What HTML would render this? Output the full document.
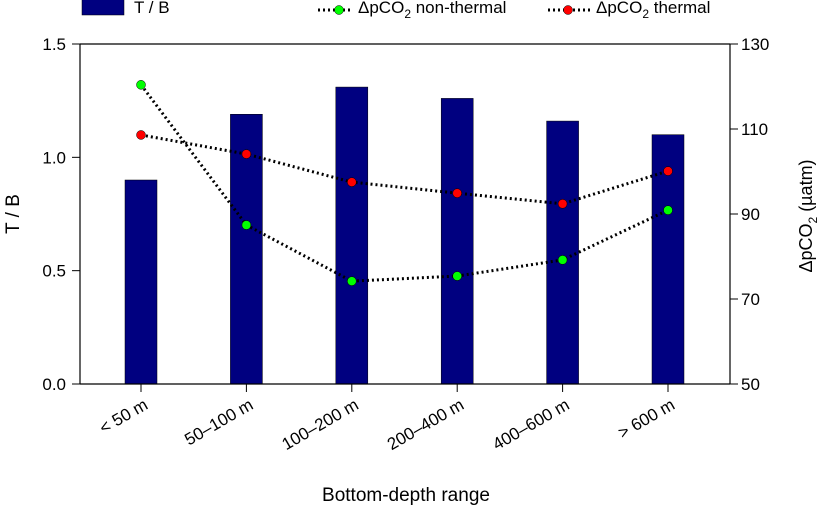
<!DOCTYPE html>
<html><head><meta charset="utf-8"><style>
body{margin:0;background:#fff}
svg{font-family:"Liberation Sans",sans-serif;display:block}
</style></head><body>
<svg id="c" width="824" height="509">
<g>
<rect x="82" y="-2" width="42" height="17" fill="#000080" stroke="#000" stroke-width="0.5"/>
<text x="134" y="13" font-size="17">T / B</text>
<line x1="318" y1="10" x2="352" y2="10" stroke="#000" stroke-width="3" stroke-dasharray="2,3"/>
<circle cx="339" cy="10" r="4.5" fill="#00ff00" stroke="#000" stroke-width="0.5"/>
<text x="358" y="13" font-size="17">ΔpCO<tspan font-size="12" dy="5">2</tspan><tspan dy="-5"> non-thermal</tspan></text>
<line x1="548" y1="10" x2="592" y2="10" stroke="#000" stroke-width="3" stroke-dasharray="2,3"/>
<circle cx="568" cy="10" r="4.5" fill="#ff0000" stroke="#000" stroke-width="0.5"/>
<text x="596" y="13" font-size="17">ΔpCO<tspan font-size="12" dy="5">2</tspan><tspan dy="-5"> thermal</tspan></text>
</g>
<g id="plot"></g>
<text x="406" y="501" font-size="19" text-anchor="middle">Bottom-depth range</text>
<text transform="translate(19,214) rotate(-90)" font-size="19" text-anchor="middle">T / B</text>
<text transform="translate(812,216) rotate(-90)" font-size="18" text-anchor="middle">ΔpCO<tspan font-size="12" dy="5">2</tspan><tspan dy="-5"> (µatm)</tspan></text>
</svg>
<script>
const categories=["< 50 m","50–100 m","100–200 m","200–400 m","400–600 m","> 600 m"];
const tbValues=[0.90,1.19,1.31,1.26,1.16,1.10];
const nonThermal=[120.4,87.4,74.2,75.4,79.2,90.9];
const thermal=[108.6,104.1,97.5,94.9,92.4,100.1];
const leftTicks=[0.0,0.5,1.0,1.5];
const rightTicks=[50,70,90,110,130];

const L=80,R=730,T=44,B=384,NS="http://www.w3.org/2000/svg";
const g=document.getElementById('plot');
const yL=v=>B-(v/1.5)*(B-T);
const yR=v=>B-((v-50)/80)*(B-T);
const xC=i=>141+i*105.4;
function mk(t,a){const e=document.createElementNS(NS,t);for(const k in a)e.setAttribute(k,a[k]);g.appendChild(e);return e;}
tbValues.forEach((v,i)=>{
 const r=mk('rect',{x:xC(i)-16,y:yL(v),width:32,height:B-yL(v),fill:'#000080',stroke:'#000','stroke-width':0.5});
 
 
});
mk('line',{x1:L,y1:T,x2:R,y2:T,stroke:'#000','stroke-width':1.2});
mk('line',{x1:L,y1:B,x2:R,y2:B,stroke:'#000','stroke-width':1.2});
mk('line',{x1:L,y1:T,x2:L,y2:B,stroke:'#000','stroke-width':1.2});
mk('line',{x1:R,y1:T,x2:R,y2:B,stroke:'#000','stroke-width':1.2});
leftTicks.forEach(v=>{
 mk('line',{x1:L-8,y1:yL(v),x2:L,y2:yL(v),stroke:'#000'});
 const t=mk('text',{x:L-14,y:yL(v)+6,'font-size':17,'text-anchor':'end'});t.textContent=v.toFixed(1);
 
 
});
rightTicks.forEach(v=>{
 mk('line',{x1:R,y1:yR(v),x2:R+8,y2:yR(v),stroke:'#000'});
 const t=mk('text',{x:R+11,y:yR(v)+6,'font-size':17});t.textContent=v;
 
 
});
categories.forEach((c,i)=>{
 mk('line',{x1:xC(i),y1:B,x2:xC(i),y2:B+8,stroke:'#000'});
 const t=mk('text',{x:xC(i)+8,y:B+24,'font-size':17,'text-anchor':'end',transform:`rotate(-30 ${xC(i)+8} ${B+24})`});t.textContent=c;
 
 
});
function series(vals,col,name){
 const pl=mk('polyline',{points:vals.map((v,i)=>xC(i)+','+yR(v)).join(' '),fill:'none',stroke:'#000','stroke-width':3,'stroke-dasharray':'2,3'});
 
 
 vals.forEach((v,i)=>{
  const c=mk('circle',{cx:xC(i),cy:yR(v),r:4.5,fill:col,stroke:'#000','stroke-width':0.5});
  
  
 });
}
series(nonThermal,'#00ff00','nonthermal');
series(thermal,'#ff0000','thermal');
</script>
</body></html>
